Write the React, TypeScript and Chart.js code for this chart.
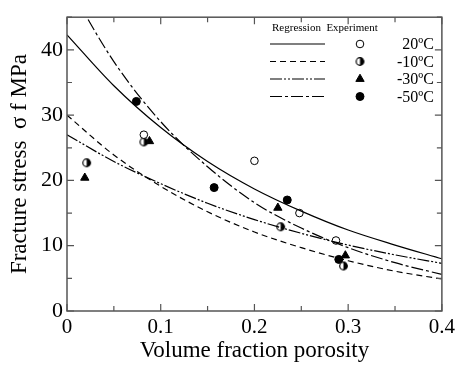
import React, { useEffect, useRef } from "react";
import { Chart, registerables } from "chart.js";

Chart.register(...registerables);

// Regression curves read at porosity steps of 0.05
const curveX = [0, 0.05, 0.1, 0.15, 0.2, 0.25, 0.3, 0.35, 0.4];
const reg20 = [42.3, 34.5, 28.1, 22.9, 18.7, 15.3, 12.4, 10.1, 8.0];
const regM10 = [30.0, 23.9, 19.1, 15.2, 12.1, 9.7, 7.7, 6.1, 4.9];
const regM30 = [27.0, 22.9, 19.5, 16.5, 14.0, 11.9, 10.1, 8.6, 7.3];
const regM50 = [50.2, 38.2, 29.0, 22.1, 16.6, 12.7, 9.7, 7.4, 5.6];

// Experiment points
const exp20X = [0.082, 0.2, 0.248, 0.287];
const exp20Y = [27.0, 23.0, 15.0, 10.8];
const expM10X = [0.021, 0.082, 0.228, 0.295];
const expM10Y = [22.7, 25.9, 12.9, 6.9];
const expM30X = [0.019, 0.088, 0.225, 0.297];
const expM30Y = [20.4, 26.0, 15.8, 8.5];
const expM50X = [0.074, 0.157, 0.235, 0.29];
const expM50Y = [32.1, 18.9, 17.0, 7.9];

const legendLabels = ["20ºC", "-10ºC", "-30ºC", "-50ºC"];
const dashes: number[][] = [[], [6, 4], [12, 2, 2, 2, 2, 2], [12, 3, 3, 3]];

const xTicks = [0, 0.1, 0.2, 0.3, 0.4];
const yTicks = [0, 10, 20, 30, 40];

const pts = (xs: number[], ys: number[]) => xs.map((x, i) => ({ x, y: ys[i] }));

const SERIF = "'Liberation Serif', 'Times New Roman', serif";

export default function App() {
  const ref = useRef<HTMLCanvasElement>(null);
  useEffect(() => {
    const half = document.createElement("canvas");
    half.width = 11;
    half.height = 11;
    const hc = half.getContext("2d")!;
    hc.beginPath();
    hc.arc(5.5, 5.5, 3.8, 0, Math.PI * 2);
    hc.fillStyle = "#fff";
    hc.fill();
    hc.beginPath();
    hc.arc(5.5, 5.5, 3.8, -Math.PI / 2, Math.PI / 2);
    hc.closePath();
    hc.fillStyle = "#000";
    hc.fill();
    hc.beginPath();
    hc.arc(5.5, 5.5, 3.8, 0, Math.PI * 2);
    hc.strokeStyle = "#000";
    hc.lineWidth = 1.2;
    hc.stroke();

    const markerStyles: any[] = [
      { style: "circle", bg: "#fff", r: 3.8 },
      { style: half, bg: "#000", r: 4.5 },
      { style: "triangle", bg: "#000", r: 4.8 },
      { style: "circle", bg: "#000", r: 4 },
    ];

    const regs = [reg20, regM10, regM30, regM50];
    const exps = [
      pts(exp20X, exp20Y),
      pts(expM10X, expM10Y),
      pts(expM30X, expM30Y),
      pts(expM50X, expM50Y),
    ];

    const datasets: any[] = [];
    regs.forEach((r, i) => {
      datasets.push({
        label: "reg " + legendLabels[i],
        data: pts(curveX, r),
        showLine: true,
        borderColor: "#000",
        borderWidth: 1.2,
        borderDash: dashes[i],
        pointRadius: 0,
        cubicInterpolationMode: "monotone",
        fill: false,
      });
    });
    exps.forEach((e, i) => {
      datasets.push({
        label: "exp " + legendLabels[i],
        data: e,
        showLine: false,
        pointStyle: markerStyles[i].style,
        pointRadius: markerStyles[i].r,
        backgroundColor: markerStyles[i].bg,
        borderColor: "#000",
        borderWidth: 1,
      });
    });

    const rows = [44, 61.5, 79, 96.5];

    const frame = {
      id: "frame",
      afterDraw(chart: any) {
        const { ctx, chartArea: a, scales } = chart;
        const xs = scales.x;
        const ys = scales.y;
        ctx.save();
        ctx.strokeStyle = "#555";
        ctx.lineWidth = 1.5;
        ctx.strokeRect(a.left, a.top, a.right - a.left, a.bottom - a.top);
        ctx.lineWidth = 1.2;
        ctx.beginPath();
        for (let k = 0; k <= 8; k++) {
          const v = k * 0.05;
          const px = xs.getPixelForValue(v);
          const len = k % 2 === 0 ? 7 : 5;
          ctx.moveTo(px, a.bottom);
          ctx.lineTo(px, a.bottom - len);
          ctx.moveTo(px, a.top);
          ctx.lineTo(px, a.top + len);
        }
        for (let k = 0; k <= 9; k++) {
          const v = k * 5;
          const py = ys.getPixelForValue(v);
          const len = k % 2 === 0 ? 7 : 5;
          ctx.moveTo(a.left, py);
          ctx.lineTo(a.left + len, py);
          ctx.moveTo(a.right, py);
          ctx.lineTo(a.right - len, py);
        }
        ctx.stroke();

        // legend
        ctx.fillStyle = "#000";
        ctx.font = "11px " + SERIF;
        ctx.textBaseline = "middle";
        ctx.textAlign = "left";
        ctx.fillText("Regression  Experiment", 272, 28);
        rows.forEach((y, i) => {
          ctx.save();
          ctx.strokeStyle = "#000";
          ctx.lineWidth = 1.2;
          ctx.setLineDash(dashes[i]);
          ctx.beginPath();
          ctx.moveTo(270, y);
          ctx.lineTo(325, y);
          ctx.stroke();
          ctx.restore();
          ctx.fillStyle = "#000";
          ctx.font = "16px " + SERIF;
          ctx.textAlign = "right";
          ctx.fillText(legendLabels[i], 434, y + 1);
        });
        ctx.restore();
      },
    };

    const legendMarkers = {
      id: "legendMarkers",
      afterDraw(chart: any) {
        const ctx = chart.ctx;
        rows.forEach((y, i) => {
          const meta = chart.getDatasetMeta(4 + i);
          const el = meta.data[0];
          if (!el) return;
          const opts = el.options;
          ctx.save();
          ctx.fillStyle = opts.backgroundColor;
          ctx.strokeStyle = opts.borderColor;
          ctx.lineWidth = opts.borderWidth;
          const style = opts.pointStyle;
          const r = opts.radius;
          if (style instanceof HTMLCanvasElement) {
            ctx.drawImage(style, 360 - style.width / 2, y - style.height / 2);
          } else {
            ctx.beginPath();
            if (style === "triangle") {
              ctx.moveTo(360, y - r);
              ctx.lineTo(360 + r * 0.866, y + r * 0.5);
              ctx.lineTo(360 - r * 0.866, y + r * 0.5);
              ctx.closePath();
            } else {
              ctx.arc(360, y, r, 0, Math.PI * 2);
            }
            ctx.fill();
            ctx.stroke();
          }
          ctx.restore();
        });
      },
    };

    const chart = new Chart(ref.current!, {
      type: "scatter",
      data: { datasets },
      plugins: [frame, legendMarkers],
      options: {
        animation: false,
        responsive: false,
        maintainAspectRatio: false,
        layout: { padding: { left: 0, top: 10, right: 15, bottom: 0 } },
        plugins: { legend: { display: false }, tooltip: { enabled: false } },
        scales: {
          x: {
            type: "linear",
            min: 0,
            max: 0.4,
            afterFit: (s: any) => {
              s.height = 54;
            },
            afterBuildTicks: (s: any) => {
              s.ticks = xTicks.map((v) => ({ value: v }));
            },
            grid: { display: false, drawTicks: false },
            border: { display: false },
            ticks: {
              color: "#000",
              padding: 4,
              font: { family: SERIF, size: 21 },
              callback: (v: any) => (v === 0 ? "0" : Number(v).toFixed(1)),
              maxRotation: 0,
            },
            title: {
              display: true,
              text: "Volume fraction porosity",
              color: "#000",
              padding: { top: 0, bottom: 0 },
              font: { family: SERIF, size: 23 },
            },
          },
          y: {
            type: "linear",
            min: 0,
            max: 45,
            afterFit: (s: any) => {
              s.width = 67;
            },
            afterBuildTicks: (s: any) => {
              s.ticks = yTicks.map((v) => ({ value: v }));
            },
            grid: { display: false, drawTicks: false },
            border: { display: false },
            ticks: {
              color: "#000",
              padding: 4,
              font: { family: SERIF, size: 22 },
            },
            title: {
              display: true,
              text: "Fracture stress  σ f MPa",
              color: "#000",
              padding: { top: 6, bottom: 0 },
              font: { family: SERIF, size: 23 },
            },
          },
        },
      } as any,
    });
    return () => chart.destroy();
  }, []);

  return (
    <div style={{ position: "fixed", left: 0, top: 0, width: 459, height: 365, background: "#fff" }}>
      <canvas ref={ref} width={459} height={365} />
    </div>
  );
}
